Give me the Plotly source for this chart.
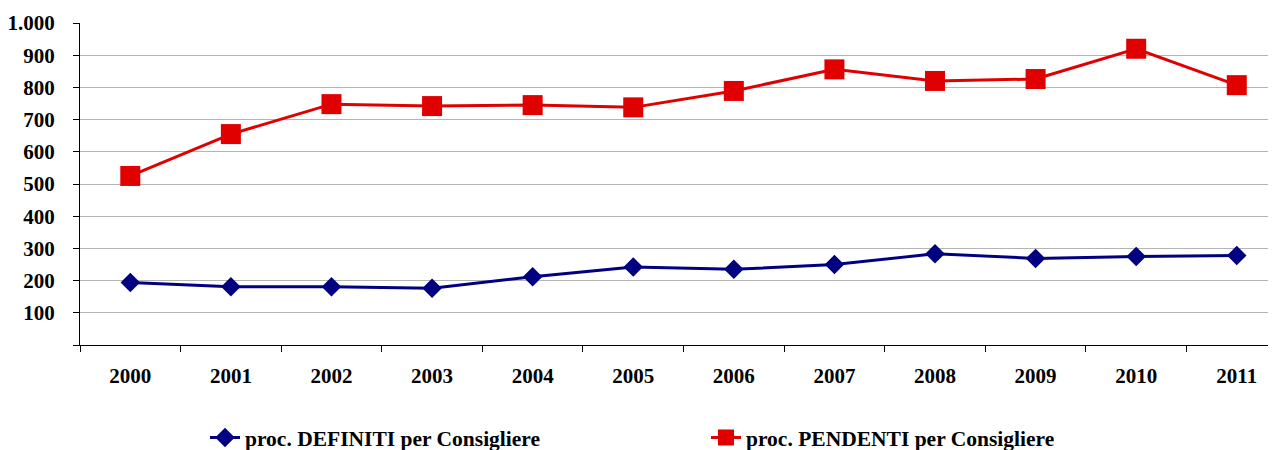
import plotly.graph_objects as go

years = ["2000", "2001", "2002", "2003", "2004", "2005", "2006", "2007", "2008", "2009", "2010", "2011"]
definiti = [194, 181, 181, 176, 212, 242, 235, 250, 283, 269, 275, 278]
pendenti = [525, 655, 748, 742, 745, 738, 789, 856, 820, 826, 920, 807]
y_tickvals = [0, 100, 200, 300, 400, 500, 600, 700, 800, 900, 1000]
y_ticktext = ["", "100", "200", "300", "400", "500", "600", "700", "800", "900", "1.000"]

name_def = "proc. DEFINITI per Consigliere"
name_pen = "proc. PENDENTI per Consigliere"

fig = go.Figure()
fig.add_trace(go.Scatter(
    x=years, y=definiti, name=name_def, mode="lines+markers",
    line=dict(color="#000080", width=3),
    marker=dict(symbol="diamond", size=15, color="#000080"),
))
fig.add_trace(go.Scatter(
    x=years, y=pendenti, name=name_pen, mode="lines+markers",
    line=dict(color="#E00000", width=3),
    marker=dict(symbol="square", size=20, color="#E00000"),
))

font = dict(family="Times New Roman, Liberation Serif, serif", size=21, color="black", weight="bold")
legfont = dict(family="Times New Roman, Liberation Serif, serif", size=21.5, color="black", weight="bold")

fig.update_layout(
    width=1268, height=450,
    margin=dict(l=72, r=0, t=15, b=113, autoexpand=False),
    paper_bgcolor="white", plot_bgcolor="white",
    font=font,
    showlegend=True,
    legend=dict(
        orientation="h", xref="container", yref="container",
        x=197 / 1268, y=0.0, xanchor="left", yanchor="bottom",
        entrywidth=456, entrywidthmode="pixels",
        font=legfont,
        bgcolor="rgba(0,0,0,0)",
    ),
)
fig.update_xaxes(
    type="category", range=[-0.5, 11.39], automargin=False,
    showline=True, linecolor="black", linewidth=1,
    ticks="outside", tickson="boundaries", ticklen=6, tickcolor="black",
    showgrid=False, ticklabelstandoff=12,
    tickfont=font,
)
fig.update_yaxes(
    range=[0, 1000], tickvals=y_tickvals, ticktext=y_ticktext, automargin=False,
    showline=True, linecolor="black", linewidth=1,
    ticks="outside", ticklen=6, tickcolor="black",
    showgrid=True, gridcolor="#b4b4b4", gridwidth=1,
    zeroline=False, ticklabelstandoff=14,
    tickfont=font,
)

fig.write_html("out.html")
